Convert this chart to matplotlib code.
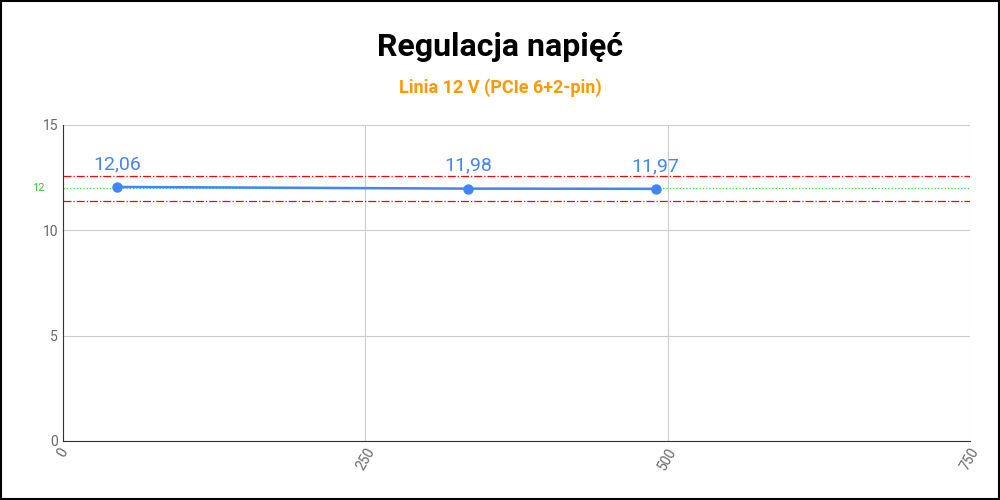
import matplotlib.pyplot as plt

obciazenie = [45, 335, 490]
napiecie = [12.06, 11.98, 11.97]
etykiety = ["12,06", "11,98", "11,97"]
nominal = 12
tolerancja = [12.6, 11.4]
xticks = [0, 250, 500, 750]
yticks = [0, 5, 10, 15]

plt.rcParams["font.family"] = ["Roboto", "DejaVu Sans"]

fig = plt.figure(figsize=(10, 5), dpi=100)
fig.patches.append(plt.Rectangle((0.001, 0.002), 0.998, 0.996, transform=fig.transFigure,
                                 fill=False, ec="black", lw=1.5))
ax = fig.add_axes([0.063, 0.118, 0.907, 0.632])

ax.plot(obciazenie, napiecie, "o-", color="#4285f4", lw=1.8, ms=6.5, zorder=3)
for x, y, t in zip(obciazenie, napiecie, etykiety):
    ax.annotate(t, (x, y), xytext=(0, 10), textcoords="offset points",
                ha="center", va="bottom", color="#4285f4", fontsize=14)
for v in tolerancja:
    ax.axhline(v, color="red", ls="-.", lw=0.9)
ax.axhline(nominal, color="#33dd33", ls=":", lw=0.9)

ax.set_xlim(0, 750)
ax.set_ylim(0, 15)
ax.set_xticks(xticks)
ax.set_xticklabels([str(t) for t in xticks], rotation=60, color="#666666", fontsize=10)
ax.set_yticks(yticks)
ax.set_yticklabels([str(t) for t in yticks], color="#666666", fontsize=10)
ax.text(-0.02, nominal, "12", color="#33cc33", fontsize=8, ha="right", va="center",
        transform=ax.get_yaxis_transform())
ax.grid(True, color="#cccccc", lw=0.8)
ax.tick_params(length=0)
for s in ax.spines.values():
    s.set_visible(False)
ax.spines["bottom"].set_visible(True)
ax.spines["bottom"].set_color("#333333")
ax.spines["left"].set_visible(True)
ax.spines["left"].set_color("#333333")

fig.text(0.5, 0.905, "Regulacja napięć", ha="center", va="center",
         fontsize=23, fontweight="bold")
fig.text(0.5, 0.825, "Linia 12 V (PCIe 6+2-pin)", ha="center", va="center",
         fontsize=13, fontweight="bold", color="#ff9900")

fig.savefig("out.png", dpi=100)
